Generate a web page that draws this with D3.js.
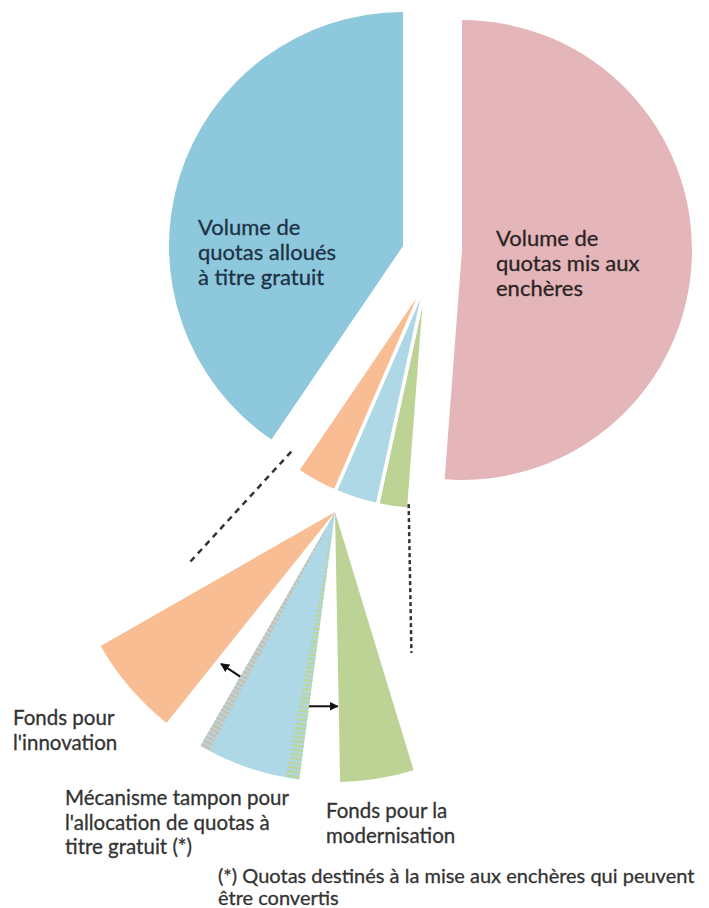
<!DOCTYPE html>
<html>
<head>
<meta charset="utf-8">
<script src="https://cdn.jsdelivr.net/npm/d3@7"></script>
<style>
  body { margin: 0; background: #fff; }
  text { font-family: Lato, "Open Sans", sans-serif; }
</style>
</head>
<body>
<svg id="chart" width="709" height="908"></svg>
<script>
// ---- Data -------------------------------------------------------------
// Slices, clockwise from 12 o'clock
const categories = [
  "Volume de quotas mis aux enchères",
  "Fonds pour la modernisation",
  "Mécanisme tampon pour l'allocation de quotas à titre gratuit (*)",
  "Fonds pour l'innovation",
  "Volume de quotas alloués à titre gratuit"
];
const shares = [51.2, 2.2, 3.1, 3.0, 40.5];   // % of the total cap
const colors = ["#e4b5b9", "#bdd396", "#aed8e6", "#f8bd93", "#8ec8dc"];

// Text drawn inside the two large slices
const mainLabelLines = [
  ["Volume de", "quotas mis aux", "enchères"],
  null, null, null,
  ["Volume de", "quotas alloués", "à titre gratuit"]
];
// Text drawn under the enlarged detail
const detailLabelLines = [
  null,
  ["Fonds pour la", "modernisation"],
  ["Mécanisme tampon pour", "l'allocation de quotas à", "titre gratuit (*)"],
  ["Fonds pour", "l'innovation"],
  null
];
const footnoteLines = [
  "(*) Quotas destinés à la mise aux enchères qui peuvent",
  "être convertis"
];

// ---- Layout -----------------------------------------------------------
const W = 709, H = 908;
const deg = Math.PI / 180;
const svg = d3.select("#chart");

const pie = d3.pie().sort(null).value(d => d).startAngle(0).endAngle(2 * Math.PI);
const arcs = pie(shares);

// exploded pie: each slice gets its own centre and radius
const sliceCenter = [[462, 250], [426, 281], [426, 281], [426, 281], [403, 246]];
const sliceRadius = [230, 229, 229, 229, 234];

// enlarged view of the three small slices
const fanCenter = [335, 512];
const fanRadius = 270;
const fanZoom = 2.0;        // angular magnification
const fanSpread = 8.7 * deg; // extra separation between the enlarged slices
const fanRotate = 0.95 * deg;
const smallIdx = [1, 2, 3];
const pivot = (arcs[2].startAngle + arcs[2].endAngle) / 2;
const fanAngle = (a, j) => pivot + fanRotate + fanZoom * (a - pivot) + j * fanSpread;

const polar = (c, r, a) => [c[0] + r * Math.sin(a), c[1] - r * Math.cos(a)];

// ---- Main pie ---------------------------------------------------------
const gMain = svg.append("g");
arcs.forEach((d, i) => {
  const small = smallIdx.includes(i);
  gMain.append("path")
    .attr("transform", `translate(${sliceCenter[i]})`)
    .attr("d", d3.arc().innerRadius(0).outerRadius(sliceRadius[i])(d))
    .attr("fill", colors[i])
    .attr("stroke", small ? "#fff" : "none")
    .attr("stroke-width", small ? 3.5 : 0)
    .attr("stroke-linejoin", "miter");
});

// ---- Enlarged detail --------------------------------------------------
const gFan = svg.append("g").attr("transform", `translate(${fanCenter})`);
const fanArcs = smallIdx.map((i, k) => {
  const j = k - 1; // -1 green, 0 light blue, +1 orange
  return {
    i,
    startAngle: fanAngle(arcs[i].startAngle, j),
    endAngle: fanAngle(arcs[i].endAngle, j)
  };
});
const fanArc = d3.arc().innerRadius(0).outerRadius(fanRadius);
gFan.selectAll("path.fan").data(fanArcs).join("path")
  .attr("class", "fan")
  .attr("d", fanArc)
  .attr("fill", d => colors[d.i]);

// convertible parts of the buffer slice: striped bands along both edges
const buffer = fanArcs[1];
const bands = [
  { a0: buffer.startAngle, a1: buffer.startAngle + 2.9 * deg, color: "#bcd59c" },
  { a0: buffer.endAngle - 2.2 * deg, a1: buffer.endAngle, color: "#d0bda9" }
];
const stripeRadii = d3.range(20, fanRadius - 1, 4.4);
bands.forEach(b => {
  gFan.append("g").selectAll("path").data(stripeRadii).join("path")
    .attr("d", r => d3.arc()({ innerRadius: r, outerRadius: Math.min(r + 2.4, fanRadius), startAngle: b.a0, endAngle: b.a1 }))
    .attr("fill", b.color);
});

// ---- Leader lines -----------------------------------------------------
const orangeSmall = polar(sliceCenter[3], sliceRadius[3], arcs[3].endAngle);
const orangeBig = polar(fanCenter, fanRadius, fanArcs[2].endAngle);
const greenSmall = polar(sliceCenter[1], sliceRadius[1], arcs[1].startAngle);
const greenBig = polar(fanCenter, fanRadius, fanArcs[0].startAngle);

function leader(p0, p1, t0, t1, n0, n1) {
  const dx = p1[0] - p0[0], dy = p1[1] - p0[1];
  const len = Math.hypot(dx, dy);
  const nx = dy / len, ny = -dx / len;
  const at = (t, n) => [p0[0] + dx * t + nx * n, p0[1] + dy * t + ny * n];
  return [at(t0, n0), at(t1, n1)];
}
const leftLeader = leader(orangeSmall, orangeBig, -0.03, 0.54, -18, -3);
const rightLeader = leader(greenSmall, greenBig, -0.02, 0.55, 0, 0);

svg.append("line")
  .attr("x1", leftLeader[0][0]).attr("y1", leftLeader[0][1])
  .attr("x2", leftLeader[1][0]).attr("y2", leftLeader[1][1])
  .attr("stroke", "#333").attr("stroke-width", 2.5)
  .attr("stroke-dasharray", "6,5");
svg.append("line")
  .attr("x1", rightLeader[0][0]).attr("y1", rightLeader[0][1])
  .attr("x2", rightLeader[1][0]).attr("y2", rightLeader[1][1])
  .attr("stroke", "#333").attr("stroke-width", 2.5)
  .attr("stroke-dasharray", "4,3");

// ---- Arrows -----------------------------------------------------------
svg.append("defs").append("marker")
  .attr("id", "head").attr("viewBox", "0 0 10 10")
  .attr("refX", 9).attr("refY", 5)
  .attr("markerWidth", 4.5).attr("markerHeight", 4.5)
  .attr("orient", "auto")
  .append("path").attr("d", "M0,0L10,5L0,10Z").attr("fill", "#111");

// towards the innovation fund
const a1 = buffer.endAngle;
const t1 = polar(fanCenter, 190, a1);
const h1 = [t1[0] + 27 * Math.cos(a1) * 0.82, t1[1] + 27 * Math.sin(a1) * 0.95];
// towards the modernisation fund
const a2 = buffer.startAngle;
const t2 = polar(fanCenter, 196, a2);
const yG = t2[1] - fanCenter[1];
const aG = fanArcs[0].endAngle;
const h2 = [fanCenter[0] + yG * Math.tan(Math.PI - aG) - 1, t2[1]];

[[t1, h1], [t2, h2]].forEach(([t, h]) => {
  svg.append("line")
    .attr("x1", t[0]).attr("y1", t[1]).attr("x2", h[0]).attr("y2", h[1])
    .attr("stroke", "#111").attr("stroke-width", 2)
    .attr("marker-end", "url(#head)");
});

// ---- Text -------------------------------------------------------------
const mainLabelPos = [[496, 246], null, null, null, [198, 235]];
const mainLabelColor = ["#2b2424", null, null, null, "#1d3246"];
const detailLabelPos = [null, [326, 818], [65, 805], [13, 725], null];

function block(lines, x, y, lh, size, color) {
  const t = svg.append("text").attr("x", x).attr("y", y)
    .attr("font-size", size).attr("fill", color)
    .attr("stroke", color).attr("stroke-width", 0.3);
  lines.forEach((s, k) => t.append("tspan").attr("x", x).attr("y", y + k * lh).text(s));
}
mainLabelLines.forEach((lines, i) => {
  if (lines) block(lines, mainLabelPos[i][0], mainLabelPos[i][1], 25, 22, mainLabelColor[i]);
});
detailLabelLines.forEach((lines, i) => {
  if (lines) block(lines, detailLabelPos[i][0], detailLabelPos[i][1], 24.5, 20.5, "#333");
});
block(footnoteLines, 218, 883, 22, 20, "#333");
</script>
</body>
</html>
